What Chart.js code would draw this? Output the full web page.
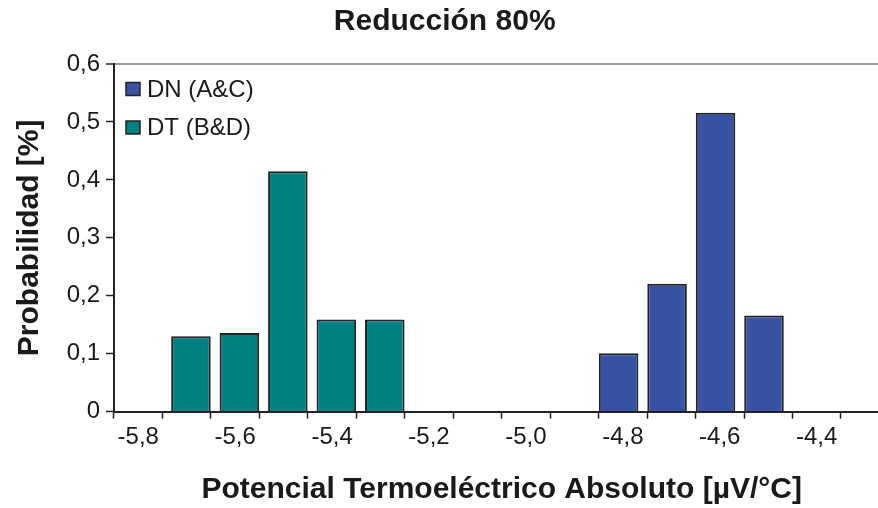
<!DOCTYPE html>
<html>
<head>
<meta charset="utf-8">
<script src="https://cdn.jsdelivr.net/npm/chart.js@4.4.1/dist/chart.umd.min.js"></script>
<style>
  html, body { margin: 0; padding: 0; background: #ffffff; overflow: hidden; }
  #wrap { width: 892px; height: 508px; position: relative; }
</style>
</head>
<body>
<div id="wrap"><canvas id="chart"></canvas></div>
<script>
// Histogram bins of the absolute thermoelectric power (µV/°C), step 0.1
const categories = ['-5,8', '-5,7', '-5,6', '-5,5', '-5,4', '-5,3', '-5,2', '-5,1',
                    '-5,0', '-4,9', '-4,8', '-4,7', '-4,6', '-4,5', '-4,4', '-4,3'];

// Probability per bin for each group
const seriesDN = [null, null, null, null, null, null, null, null,
                  null, null, 0.101, 0.221, 0.516, 0.166, null, null];
const seriesDT = [null, 0.130, 0.136, 0.415, 0.159, 0.159, null, null,
                  null, null, null, null, null, null, null, null];

const seriesNames = ['DN (A&C)', 'DT (B&D)'];
const yTicks = [0, 0.1, 0.2, 0.3, 0.4, 0.5, 0.6];

const FONT = '"Liberation Sans", Arial, Helvetica, sans-serif';
const INK = '#1a1a1a';

// Legend boxes drawn inside the plot area, top-left
const innerLegend = {
  id: 'innerLegend',
  afterDraw(chart) {
    const ctx = chart.ctx;
    const area = chart.chartArea;
    ctx.save();
    chart.data.datasets.forEach((ds, i) => {
      const cy = area.top + 25 + i * 38.5;
      const x = area.left + 12;
      ctx.fillStyle = ds.backgroundColor;
      ctx.fillRect(x, cy - 6.5, 14, 13);
      ctx.lineWidth = 1.5;
      ctx.strokeStyle = '#222';
      ctx.strokeRect(x, cy - 6.5, 14, 13);
      ctx.fillStyle = INK;
      ctx.font = '24px ' + FONT;
      ctx.textBaseline = 'middle';
      ctx.textAlign = 'left';
      ctx.fillText(ds.label, x + 21, cy + 1);
    });
    ctx.restore();
  }
};

new Chart(document.getElementById('chart'), {
  type: 'bar',
  data: {
    labels: categories,
    datasets: [
      {
        label: seriesNames[0],
        data: seriesDN,
        backgroundColor: '#3953a4',
        borderColor: '#222222',
        borderWidth: 2,
        borderSkipped: 'start',
        categoryPercentage: 0.351,
        barPercentage: 4.65
      },
      {
        label: seriesNames[1],
        data: seriesDT,
        backgroundColor: '#008080',
        borderColor: '#222222',
        borderWidth: 2,
        borderSkipped: 'start',
        categoryPercentage: 0.351,
        barPercentage: 4.65
      }
    ]
  },
  options: {
    responsive: true,
    maintainAspectRatio: false,
    animation: false,
    layout: { padding: { left: 0, right: 2.6, top: 0, bottom: 0 } },
    plugins: {
      legend: { display: false },
      tooltip: { enabled: false },
      title: {
        display: true,
        text: 'Reducción 80%',
        color: INK,
        font: { family: FONT, size: 30, weight: 'bold' },
        padding: { top: 4, bottom: 24 }
      }
    },
    scales: {
      x: {
        type: 'category',
        offset: true,
        afterFit(scale) { scale.height = 96.3; },
        border: { display: true, color: '#222222', width: 2 },
        grid: {
          display: true,
          offset: true,
          drawOnChartArea: false,
          drawTicks: true,
          tickLength: 7,
          color: 'rgba(0,0,0,0)',
          tickColor: '#222222',
          tickWidth: 1.5
        },
        ticks: {
          autoSkip: false,
          maxRotation: 0,
          padding: 4,
          color: INK,
          font: { family: FONT, size: 24 },
          callback(value, index) { return index % 2 === 0 ? categories[index] : ''; }
        },
        title: {
          display: true,
          text: 'Potencial Termoeléctrico Absoluto [µV/°C]',
          color: INK,
          font: { family: FONT, size: 30, weight: 'bold' },
          padding: { top: 0, bottom: 0 }
        }
      },
      y: {
        min: 0,
        max: 0.6,
        afterFit(scale) { scale.width = 114; },
        afterBuildTicks(scale) { scale.ticks = yTicks.map(v => ({ value: v })); },
        border: { display: true, color: '#222222', width: 2 },
        grid: {
          display: true,
          drawTicks: true,
          tickLength: 8,
          color(ctx) { return ctx.tick && ctx.tick.value === 0.6 ? '#999999' : 'rgba(0,0,0,0)'; },
          lineWidth(ctx) { return ctx.tick && ctx.tick.value === 0.6 ? 2 : 1; },
          tickColor: '#222222',
          tickWidth: 1.5
        },
        ticks: {
          padding: 6,
          color: INK,
          font: { family: FONT, size: 24 },
          callback(value) { return String(Math.round(value * 10) / 10).replace('.', ','); }
        },
        title: {
          display: true,
          text: 'Probabilidad [%]',
          color: INK,
          font: { family: FONT, size: 30, weight: 'bold' },
          padding: { top: 12, bottom: 0 }
        }
      }
    }
  },
  plugins: [innerLegend]
});
</script>
</body>
</html>
